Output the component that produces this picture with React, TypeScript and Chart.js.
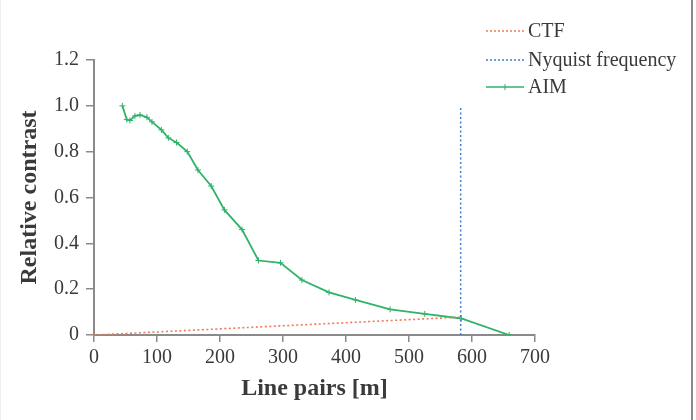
import React, { useEffect, useRef } from "react";
import { Chart, registerables } from "chart.js";

Chart.register(...registerables);

// AIM measurement: line pairs vs. relative contrast
const aimLinePairs = [45, 52, 57, 65, 73, 84, 92, 107, 118, 131, 148, 165, 186, 207, 235, 261, 296, 330, 373, 415, 470, 525, 583, 659];
const aimContrast = [1.0, 0.94, 0.936, 0.956, 0.96, 0.95, 0.93, 0.895, 0.86, 0.84, 0.8, 0.72, 0.65, 0.546, 0.46, 0.325, 0.315, 0.24, 0.186, 0.153, 0.112, 0.092, 0.072, 0.0];

// CTF reference line
const ctfLinePairs = [0, 582];
const ctfContrast = [0, 0.078];

// Nyquist frequency marker
const nyquistLinePairs = [582, 582];
const nyquistContrast = [0, 1.0];

const xTicks = [0, 100, 200, 300, 400, 500, 600, 700];
const yTicks = [0, 0.2, 0.4, 0.6, 0.8, 1.0, 1.2];

const legendLabels = ["CTF", "Nyquist frequency", "AIM"];

const GREEN = "#2fb36a";
const ORANGE = "#f07a55";
const BLUE = "#3d80cc";
const AXIS = "#8a8a8a";
const TEXT = "#3a3a3a";
const SERIF = "'Liberation Serif', 'DejaVu Serif', serif";

const toPoints = (xs: number[], ys: number[]) => xs.map((x, i) => ({ x, y: ys[i] }));

const legendPlugin = {
  id: "cornerLegend",
  afterDraw(chart: any) {
    const ctx = chart.ctx as CanvasRenderingContext2D;
    const x0 = 485;
    const x1 = 523;
    const rows = [31, 60, 87];
    const styles = [
      { color: ORANGE, dash: [2, 2], marker: false },
      { color: BLUE, dash: [2, 2], marker: false },
      { color: GREEN, dash: [], marker: true },
    ];
    ctx.save();
    rows.forEach((y, i) => {
      const s = styles[i];
      ctx.strokeStyle = s.color;
      ctx.lineWidth = 1.5;
      ctx.setLineDash(s.dash);
      ctx.beginPath();
      ctx.moveTo(x0, y);
      ctx.lineTo(x1, y);
      ctx.stroke();
      ctx.setLineDash([]);
      if (s.marker) {
        const mx = (x0 + x1) / 2;
        ctx.lineWidth = 1;
        ctx.beginPath();
        ctx.moveTo(mx, y - 3);
        ctx.lineTo(mx, y + 3);
        ctx.stroke();
      }
      ctx.fillStyle = TEXT;
      ctx.font = `20px ${SERIF}`;
      ctx.textAlign = "left";
      ctx.textBaseline = "middle";
      ctx.fillText(legendLabels[i], x1 + 4, y + 1);
    });
    ctx.restore();
  },
};

export default function App() {
  const canvasRef = useRef<HTMLCanvasElement | null>(null);

  useEffect(() => {
    document.body.style.margin = "0";
    const canvas = canvasRef.current;
    if (!canvas) return;
    const chart = new Chart(canvas, {
      type: "line",
      data: {
        datasets: [
          {
            label: "CTF",
            data: toPoints(ctfLinePairs, ctfContrast),
            borderColor: ORANGE,
            borderWidth: 1.6,
            borderDash: [2, 2.5],
            pointRadius: 0,
            fill: false,
          },
          {
            label: "Nyquist frequency",
            data: toPoints(nyquistLinePairs, nyquistContrast),
            borderColor: BLUE,
            borderWidth: 1.5,
            borderDash: [2, 2.5],
            pointRadius: 0,
            fill: false,
          },
          {
            label: "AIM",
            data: toPoints(aimLinePairs, aimContrast),
            borderColor: GREEN,
            borderWidth: 1.8,
            pointStyle: "cross",
            pointRadius: 3,
            pointBorderColor: GREEN,
            pointBorderWidth: 1,
            tension: 0,
            fill: false,
          },
        ],
      },
      options: {
        animation: false,
        responsive: false,
        maintainAspectRatio: false,
        layout: { padding: { left: 0, top: 60, right: 162, bottom: 0 } },
        plugins: {
          legend: { display: false },
          tooltip: { enabled: false },
        },
        scales: {
          x: {
            type: "linear",
            min: 0,
            max: 700,
            afterBuildTicks: (scale: any) => {
              scale.ticks = xTicks.map((v) => ({ value: v }));
            },
            afterFit: (scale: any) => {
              scale.height = 85;
            },
            grid: {
              drawOnChartArea: false,
              drawTicks: true,
              tickLength: 7,
              color: AXIS,
              lineWidth: 1.5,
            },
            border: { display: true, color: AXIS, width: 2 },
            ticks: {
              color: TEXT,
              font: { family: SERIF, size: 20 },
              padding: 4,
              maxRotation: 0,
            },
            title: {
              display: true,
              text: "Line pairs [m]",
              color: TEXT,
              font: { family: SERIF, size: 24, weight: "bold" },
              padding: { top: 0, bottom: 17 },
            },
          },
          y: {
            type: "linear",
            min: 0,
            max: 1.2,
            afterBuildTicks: (scale: any) => {
              scale.ticks = yTicks.map((v) => ({ value: v }));
            },
            afterFit: (scale: any) => {
              scale.width = 93;
            },
            grid: {
              drawOnChartArea: false,
              drawTicks: true,
              tickLength: 8,
              color: AXIS,
              lineWidth: 1.5,
            },
            border: { display: true, color: AXIS, width: 2 },
            ticks: {
              color: TEXT,
              font: { family: SERIF, size: 20 },
              padding: 7,
              callback: (v: any) => (Number(v) === 0 ? "0" : Number(v).toFixed(1)),
            },
            title: {
              display: true,
              text: "Relative contrast",
              color: TEXT,
              font: { family: SERIF, size: 24, weight: "bold" },
              padding: { top: 14, bottom: 0 },
            },
          },
        },
      },
      plugins: [legendPlugin],
    });
    return () => chart.destroy();
  }, []);

  return (
    <div
      style={{
        position: "relative",
        width: 696,
        height: 420,
        background: "#fff",
        boxSizing: "border-box",
        borderLeft: "1px solid #eeeeee",
      }}
    >
      <canvas ref={canvasRef} width={696} height={420} style={{ display: "block" }} />
      <div
        style={{
          position: "absolute",
          left: 690,
          top: 0,
          width: 2,
          height: 420,
          background: "#8a8a8a",
        }}
      />
    </div>
  );
}
